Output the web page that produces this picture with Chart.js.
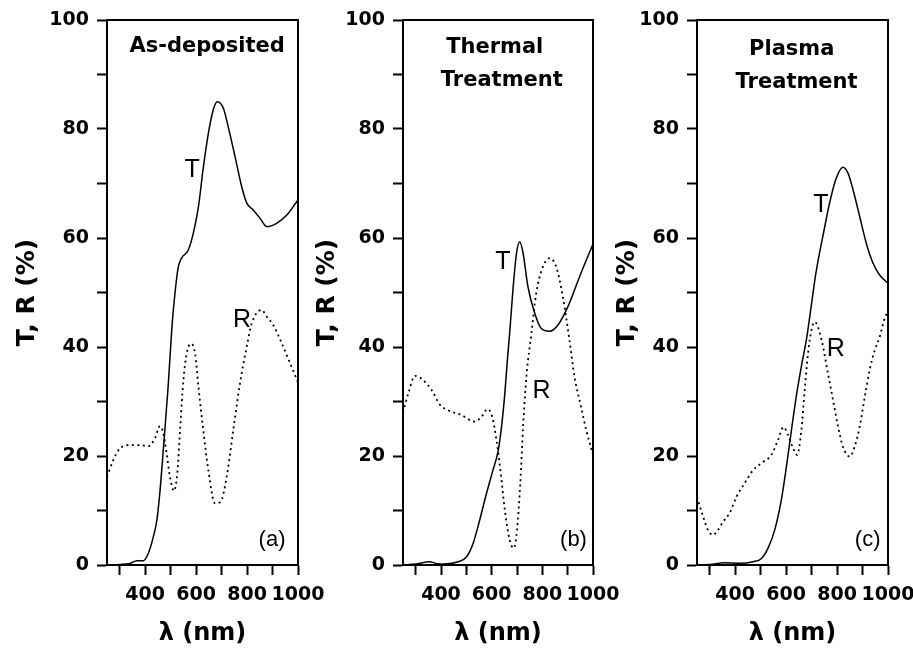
<!DOCTYPE html>
<html>
<head>
<meta charset="utf-8">
<script src="https://cdn.jsdelivr.net/npm/chart.js@4.4.0/dist/chart.umd.min.js"></script>
<style>
html, body { margin: 0; padding: 0; background: #fff; }
#wrap { position: relative; width: 913px; height: 648px; }
#wrap canvas { position: absolute; left: 0; top: 0; }
</style>
</head>
<body>
<div id="wrap">
  <canvas id="chartA" width="913" height="648"></canvas>
  <canvas id="chartB" width="913" height="648"></canvas>
  <canvas id="chartC" width="913" height="648"></canvas>
</div>
<script>
// (a) as-deposited
const wlA_T = [250, 300, 340, 367, 393, 412, 432, 446, 458, 470, 490, 505, 517, 530, 543, 569, 589, 609, 627, 648, 667, 683, 707, 726, 753, 779, 799, 825, 851, 877, 916, 956, 1000];
const tA    = [0, 0.1, 0.3, 0.8, 0.8, 2.1, 5.2, 8.3, 13.5, 20.5, 32.7, 43.7, 49.9, 54.7, 56.3, 57.8, 60.9, 65.7, 72.5, 79.2, 83.5, 85.0, 83.8, 80.4, 74.9, 69.4, 66.4, 65.1, 63.6, 62.1, 62.7, 64.2, 67.0];
const wlA_R = [250, 275, 301, 340, 380, 412, 438, 458, 471, 484, 497, 513, 526, 537, 550, 563, 579, 596, 609, 628, 648, 674, 696, 720, 746, 772, 799, 818, 857, 877, 903, 936, 969, 1000];
const rA    = [16.2, 19.3, 21.4, 22.0, 22.0, 21.8, 23.2, 25.5, 24.2, 20.5, 16.2, 13.6, 16.8, 24.8, 33.9, 38.8, 40.6, 38.8, 32.7, 24.8, 17.4, 11.3, 11.6, 16.2, 24.8, 33.3, 40.1, 44.3, 46.8, 45.6, 44.0, 40.7, 37.0, 33.5];

// (b) thermal treatment
const wlB_T = [250, 300, 356, 380, 415, 468, 501, 527, 553, 580, 605, 625, 639, 652, 662, 671, 684, 698, 711, 724, 743, 770, 796, 829, 861, 901, 947, 1000];
const tB    = [0, 0.2, 0.6, 0.3, 0.2, 0.6, 1.5, 4.0, 8.3, 13.2, 17.4, 20.8, 25.4, 31.5, 37.6, 42.5, 50.5, 57.2, 59.3, 57.2, 51.1, 46.2, 43.4, 42.9, 44.0, 47.4, 52.9, 58.9];
const wlB_R = [250, 271, 297, 330, 363, 396, 428, 481, 533, 560, 583, 602, 619, 636, 652, 671, 687, 700, 713, 724, 737, 757, 776, 802, 829, 855, 881, 907, 927, 953, 973, 1000];
const rB    = [28.0, 31.5, 34.7, 33.9, 32.1, 29.4, 28.4, 27.5, 26.3, 27.2, 28.6, 27.2, 22.9, 16.8, 10.1, 4.6, 3.1, 6.4, 15.0, 25.4, 34.5, 42.5, 49.9, 54.7, 56.3, 54.7, 49.2, 41.3, 34.5, 29.0, 24.8, 20.2];

// (c) plasma treatment
const wlC_T = [250, 300, 359, 418, 470, 503, 529, 555, 581, 601, 621, 640, 660, 680, 700, 715, 728, 745, 771, 797, 823, 843, 863, 889, 915, 941, 967, 1000];
const tC    = [0, 0.1, 0.4, 0.3, 0.6, 1.2, 3.1, 6.4, 11.9, 18.0, 24.8, 31.0, 36.5, 41.5, 48.0, 53.0, 56.5, 60.5, 66.5, 71.0, 73.0, 71.9, 68.8, 63.9, 59.0, 55.4, 53.2, 51.7];
const wlC_R = [250, 274, 293, 313, 332, 352, 378, 405, 437, 470, 503, 542, 568, 590, 607, 625, 643, 660, 673, 686, 699, 712, 739, 764, 784, 804, 823, 850, 869, 889, 909, 928, 948, 967, 987, 1000];
const rC    = [12.5, 8.9, 6.4, 5.5, 6.4, 7.9, 9.5, 12.5, 15.0, 17.4, 18.7, 20.2, 22.9, 25.3, 23.9, 21.7, 20.2, 24.8, 32.1, 38.8, 43.0, 44.6, 41.3, 35.2, 30.3, 25.4, 21.7, 19.9, 21.7, 25.4, 30.9, 35.8, 39.4, 41.8, 45.3, 46.5];

const xTickValues = [300, 400, 500, 600, 700, 800, 900, 1000];
const xTickLabels = ['', '400', '', '600', '', '800', '', '1000'];
const yTickValues = [0, 10, 20, 30, 40, 50, 60, 70, 80, 90, 100];
const yTickLabels = ['0', '', '20', '', '40', '', '60', '', '80', '', '100'];

const BOLD = '"DejaVu Sans", sans-serif';
const REG = '"Liberation Sans", Arial, sans-serif';

function pts(xs, ys) {
    return xs.map((x, i) => ({ x: x, y: ys[i] }));
}

// box around the plot area
const framePlugin = {
    id: 'frame',
    afterDraw(chart) {
        const a = chart.chartArea, ctx = chart.ctx;
        ctx.save();
        ctx.strokeStyle = '#000';
        ctx.lineWidth = 2;
        ctx.strokeRect(a.left, a.top, a.right - a.left, a.bottom - a.top);
        ctx.restore();
    }
};

// text labels placed in data units
const notesPlugin = {
    id: 'notes',
    afterDatasetsDraw(chart, args, opts) {
        const ctx = chart.ctx;
        ctx.save();
        ctx.fillStyle = '#000';
        ctx.textAlign = 'center';
        ctx.textBaseline = 'middle';
        (opts.items || []).forEach(n => {
            ctx.font = n.font;
            ctx.fillText(n.text, chart.scales.x.getPixelForValue(n.x), chart.scales.y.getPixelForValue(n.y));
        });
        ctx.restore();
    }
};

function makePanel(id, box, T, R, notes) {
    const yWidth = box.plotLeft - box.left;
    return new Chart(document.getElementById(id), {
        type: 'scatter',
        data: {
            datasets: [
                { label: 'T', data: T, showLine: true, borderColor: '#000', borderWidth: 1.5,
                  pointRadius: 0, cubicInterpolationMode: 'monotone' },
                { label: 'R', data: R, showLine: true, borderColor: '#000', borderWidth: 1.8,
                  borderDash: [2, 3.5], pointRadius: 0, cubicInterpolationMode: 'monotone' }
            ]
        },
        options: {
            responsive: false,
            animation: false,
            events: [],
            layout: { padding: { left: box.left, right: 913 - box.plotRight, top: 20, bottom: 0 } },
            plugins: {
                legend: { display: false },
                tooltip: { enabled: false },
                notes: { items: notes }
            },
            scales: {
                x: {
                    type: 'linear', min: 250, max: 1000,
                    afterBuildTicks: s => { s.ticks = xTickValues.map(v => ({ value: v })); },
                    afterFit: s => { s.height = 83; s.paddingLeft = 0; s.paddingRight = 0; },
                    ticks: {
                        autoSkip: false, maxRotation: 0, padding: 9, color: '#000',
                        font: { family: BOLD, size: 19, weight: 'bold' },
                        callback: (v, i) => xTickLabels[i]
                    },
                    grid: { drawOnChartArea: false, drawTicks: true, tickLength: 10, color: '#000', tickWidth: 2 },
                    border: { display: true, color: '#000', width: 2 },
                    title: {
                        display: true, text: 'λ (nm)', color: '#000',
                        font: { family: BOLD, size: 24, weight: 'bold', lineHeight: 1.2 },
                        padding: { top: 0, bottom: 0 }
                    }
                },
                y: {
                    type: 'linear', min: 0, max: 100,
                    afterBuildTicks: s => { s.ticks = yTickValues.map(v => ({ value: v })); },
                    afterFit: s => { s.width = yWidth; },
                    ticks: {
                        padding: 8, color: '#000',
                        font: { family: BOLD, size: 19, weight: 'bold' },
                        callback: (v, i) => yTickLabels[i]
                    },
                    grid: { drawOnChartArea: false, drawTicks: true, tickLength: 10, color: '#000', tickWidth: 2 },
                    border: { display: true, color: '#000', width: 2 },
                    title: {
                        display: true, text: 'T, R (%)', color: '#000',
                        font: { family: BOLD, size: 25, weight: 'bold', lineHeight: 1.2 },
                        padding: { top: 12, bottom: 0 }
                    }
                }
            }
        },
        plugins: [framePlugin, notesPlugin]
    });
}

const bigFont = 'bold 21px ' + BOLD;
const letterFont = '25px ' + REG;
const tagFont = '22px ' + REG;

makePanel('chartA', { left: 0, plotLeft: 107, plotRight: 298 }, pts(wlA_T, tA), pts(wlA_R, rA), [
    { text: 'As-deposited', x: 643, y: 95.2, font: bigFont },
    { text: 'T', x: 584, y: 72.5, font: letterFont },
    { text: 'R', x: 780, y: 45.0, font: letterFont },
    { text: '(a)', x: 898, y: 4.6, font: tagFont }
]);

makePanel('chartB', { left: 300, plotLeft: 403, plotRight: 593 }, pts(wlB_T, tB), pts(wlB_R, rB), [
    { text: 'Thermal', x: 612, y: 94.9, font: bigFont },
    { text: 'Treatment', x: 640, y: 88.8, font: bigFont },
    { text: 'T', x: 644, y: 55.6, font: letterFont },
    { text: 'R', x: 797, y: 31.9, font: letterFont },
    { text: '(b)', x: 923, y: 4.6, font: tagFont }
]);

makePanel('chartC', { left: 600, plotLeft: 697, plotRight: 888 }, pts(wlC_T, tC), pts(wlC_R, rC), [
    { text: 'Plasma', x: 622, y: 94.5, font: bigFont },
    { text: 'Treatment', x: 641, y: 88.6, font: bigFont },
    { text: 'T', x: 736, y: 66.1, font: letterFont },
    { text: 'R', x: 795, y: 39.6, font: letterFont },
    { text: '(c)', x: 920, y: 4.6, font: tagFont }
]);
</script>
</body>
</html>
